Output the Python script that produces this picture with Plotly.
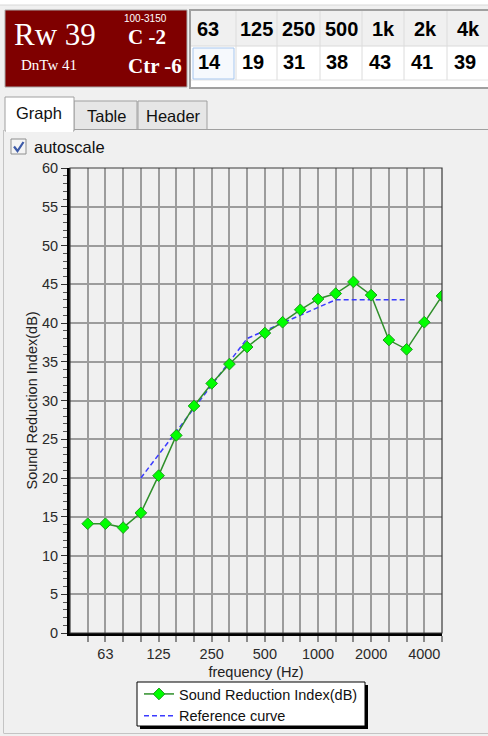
import plotly.graph_objects as go

# ---------------- data ----------------
freq_labels = ["50", "63", "80", "100", "125", "160", "200", "250", "315", "400",
               "500", "630", "800", "1000", "1250", "1600", "2000", "2500", "3150",
               "4000", "5000"]
sri_values = [14.1, 14.1, 13.6, 15.5, 20.3, 25.5, 29.3, 32.2, 34.7, 36.9,
              38.7, 40.1, 41.7, 43.1, 43.8, 45.3, 43.6, 37.8, 36.6, 40.1, 43.5]
ref_labels = ["100", "125", "160", "200", "250", "315", "400", "500", "630", "800",
              "1000", "1250", "1600", "2000", "2500", "3150"]
ref_values = [20, 23, 26, 29, 32, 35, 38, 39, 40, 41, 42, 43, 43, 43, 43, 43]
x_tick_labels = ["63", "125", "250", "500", "1000", "2000", "4000"]

octave_heads = ["63", "125", "250", "500", "1k", "2k", "4k"]
octave_values = ["14", "19", "31", "38", "43", "41", "39"]
rating_main = "Rw 39"
rating_dntw = "DnTw 41"
rating_range = "100-3150"
rating_c = "C -2"
rating_ctr = "Ctr -6"
tab_names = ["Graph", "Table", "Header"]
y_title = "Sound Reduction Index(dB)"
x_title = "frequency (Hz)"

# ---------------- geometry helpers ----------------
W, H = 488, 736
ML, MR, MT, MB = 70, 46, 168, 103
PW, PH = W - ML - MR, H - MT - MB


def fx(x):
    return (x - ML) / PW


def fy(y):
    return (H - MB - y) / PH


SANS = "Liberation Sans, Arial, sans-serif"
SERIF = "Liberation Serif, Times New Roman, serif"

shapes = []
annotations = []


def rect(x0, y0, x1, y1, fill=None, line=None, lw=1, layer="below"):
    shapes.append(dict(type="rect", xref="paper", yref="paper",
                       x0=fx(x0), x1=fx(x1), y0=fy(y1), y1=fy(y0),
                       fillcolor=fill if fill else "rgba(0,0,0,0)",
                       line=dict(color=line if line else "rgba(0,0,0,0)",
                                 width=lw if line else 0),
                       layer=layer))


def hline(x0, x1, y, color, lw=1, layer="below"):
    shapes.append(dict(type="line", xref="paper", yref="paper",
                       x0=fx(x0), x1=fx(x1), y0=fy(y), y1=fy(y),
                       line=dict(color=color, width=lw), layer=layer))


def vline(x, y0, y1, color, lw=1, layer="below"):
    shapes.append(dict(type="line", xref="paper", yref="paper",
                       x0=fx(x), x1=fx(x), y0=fy(y0), y1=fy(y1),
                       line=dict(color=color, width=lw), layer=layer))


def text(x, y, s, size, color="#111111", family=SANS, xanchor="left",
         bold=False, angle=0):
    if bold:
        s = "<b>" + s + "</b>"
    annotations.append(dict(xref="paper", yref="paper", x=fx(x), y=fy(y),
                            text=s, showarrow=False, xanchor=xanchor,
                            yanchor="middle", textangle=angle,
                            font=dict(size=size, color=color, family=family)))


# ---------------- window chrome ----------------
rect(0, 0, 488, 5, fill="#ffffff")
hline(0, 488, 5, "#d8d8d8")

# rating box
rect(5, 10, 187, 87, fill="#7f0000", line="#a8a8a8", lw=1)
text(55, 34, rating_main, 31, "#ffffff", SERIF, "center")
text(49, 65, rating_dntw, 15, "#ffffff", SERIF, "center")
text(145, 18, rating_range, 10, "#ffffff", SANS, "center")
text(126, 37, rating_c, 21, "#ffffff", SERIF, "left", bold=True)
text(126, 66, rating_ctr, 21, "#ffffff", SERIF, "left", bold=True)

# octave table
col_edges = [192, 236, 277, 320, 362, 404, 447, 489]
rect(190, 10, 492, 88, fill="#ffffff", line="#a0a0a0", lw=2)
rect(191, 11, 489, 46, fill="#f0f0f0")
hline(191, 489, 46, "#dadada")
hline(191, 489, 80, "#e4e4e4")
for e in col_edges[1:-1]:
    vline(e, 11, 80, "#dcdcdc")
rect(193, 48, 234, 79, fill="#f6f9fd", line="#a6c6ee", lw=1)
for i, (h, v) in enumerate(zip(octave_heads, octave_values)):
    c0, c1 = col_edges[i], col_edges[i + 1]
    text((c0 + c1) / 2 - (6 if i == 0 else 0), 29, h, 20, "#000000", SANS,
         "center", bold=True)
    text(c0 + 4 if i < 4 else c0 + 5, 62, v, 20, "#000000", SANS, "left",
         bold=True)

# tabs
hline(74, 488, 129.5, "#a0a0a0")
rect(74, 101, 137, 129.5, fill="#e6e6e6", line="#a0a0a0")
rect(138, 101, 207, 129.5, fill="#e6e6e6", line="#a0a0a0")
rect(5, 97, 74, 131, fill="#ffffff", line="#a0a0a0")
rect(6, 130, 73, 132, fill="#ffffff")
text(38.5, 113, tab_names[0], 16.5, "#111111", SANS, "center")
text(106, 116, tab_names[1], 16.5, "#111111", SANS, "center")
text(173, 116, tab_names[2], 16.5, "#111111", SANS, "center")

# tab page border
vline(3.5, 130, 733, "#c4c4c4")
hline(3.5, 488, 733.5, "#c4c4c4")

# checkbox
rect(11, 139, 26, 154, fill="#f4f4f4", line="#8e8f8f")
shapes.append(dict(type="path", xref="paper", yref="paper",
                   path="M {},{} L {},{} L {},{}".format(
                       fx(14), fy(146.5), fx(17.5), fy(151), fx(23.5), fy(142)),
                   line=dict(color="#3c5aa8", width=2.2), layer="below"))
text(32, 147, "autoscale", 16.5, "#111111", SANS, "left")

# y axis title (rotated)
text(31, 400.5, y_title, 14.5, "#222222", SANS, "center", angle=-90)

# plot frame (thin top/right border)
shapes.append(dict(type="rect", xref="paper", yref="paper", x0=0, x1=1, y0=0,
                   y1=1, line=dict(color="#3a3a3a", width=1.2),
                   fillcolor="rgba(0,0,0,0)", layer="above"))

# legend box with drop shadow (legend itself is transparent on top)
rect(140, 685, 368, 729, fill="#000000", layer="above")
rect(137, 682, 365, 726, fill="#ffffff", line="#000000", lw=1, layer="above")

# ---------------- traces ----------------
fig = go.Figure()
fig.add_trace(go.Scatter(
    x=ref_labels, y=ref_values, mode="lines", name="Reference curve",
    line=dict(color="#3b3bff", width=1.5, dash="5px,3px"), legendrank=2))
fig.add_trace(go.Scatter(
    x=freq_labels, y=sri_values, mode="lines+markers",
    name="Sound Reduction Index(dB)",
    line=dict(color="#2f8f2a", width=1.5),
    marker=dict(symbol="diamond", size=9, color="#00ff00",
                line=dict(color="#1e9a1e", width=1)),
    legendrank=1))

tick_text = [l if l in x_tick_labels else "" for l in freq_labels]

fig.update_layout(
    width=W, height=H,
    margin=dict(l=ML, r=MR, t=MT, b=MB, pad=0, autoexpand=False),
    paper_bgcolor="#f0f0f0", plot_bgcolor="#f0f0f0",
    font=dict(family=SANS, size=14.5, color="#222222"),
    shapes=shapes, annotations=annotations,
    showlegend=True,
    legend=dict(xref="container", yref="container",
                x=139 / W, y=1 - 678 / H, xanchor="left", yanchor="top",
                bgcolor="rgba(0,0,0,0)", borderwidth=0,
                font=dict(size=14.5, color="#111111", family=SANS),
                tracegroupgap=0, itemwidth=30),
    xaxis=dict(type="category", categoryorder="array",
               categoryarray=freq_labels, range=[-1, 20],
               tickmode="array", tickvals=freq_labels, ticktext=tick_text,
               showgrid=True, gridcolor="#9c9c9c", gridwidth=1.5,
               ticks="outside", ticklen=6, tickwidth=1.5, tickcolor="#8a8a8a",
               showline=True, linecolor="#000000", linewidth=3,
               zeroline=False, fixedrange=True,
               tickfont=dict(size=14.5, color="#2a2a2a"),
               title=dict(text=x_title, standoff=6,
                          font=dict(size=14.5, color="#222222"))),
    yaxis=dict(range=[0, 60], tick0=0, dtick=5, showgrid=True,
               gridcolor="#9c9c9c", gridwidth=1.5,
               ticks="outside", ticklen=6, tickwidth=1.2, tickcolor="#333333",
               minor=dict(dtick=1, ticks="outside", ticklen=4,
                          tickcolor="#555555", tickwidth=1, showgrid=False),
               showline=True, linecolor="#000000", linewidth=3,
               zeroline=False, fixedrange=True,
               tickfont=dict(size=14.5, color="#2a2a2a")),
)

fig.write_html(
    "out.html",
    config={"displayModeBar": False},
    post_script=("document.body.style.margin='0';"
                 "document.body.style.overflow='hidden';"
                 "document.documentElement.style.overflow='hidden';"),
)
